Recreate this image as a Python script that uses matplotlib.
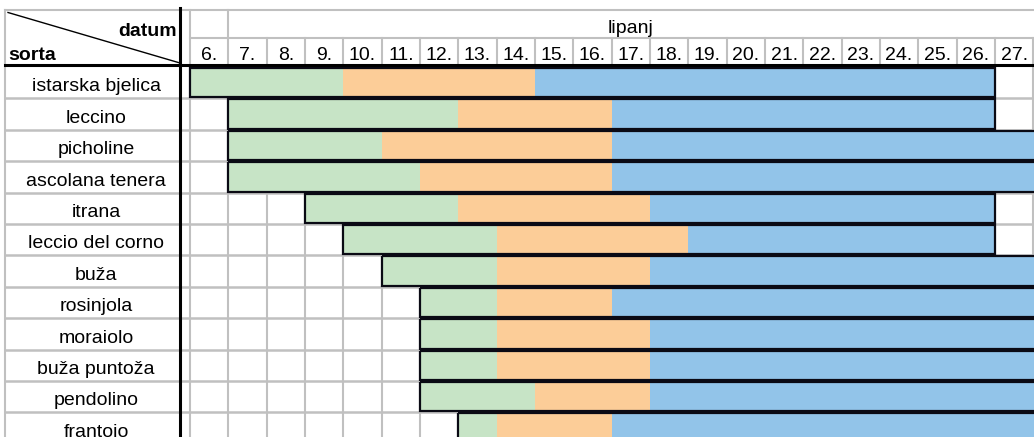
import matplotlib.pyplot as plt

plt.rcParams["font.family"] = ["Liberation Sans", "DejaVu Sans"]

# Flowering phases per olive variety (days of June, "lipanj")
varieties = [
    "istarska bjelica", "leccino", "picholine", "ascolana tenera", "itrana",
    "leccio del corno", "buža", "rosinjola", "moraiolo", "buža puntoža",
    "pendolino", "frantoio",
]
phase_start = [6, 7, 7, 7, 9, 10, 11, 12, 12, 12, 12, 13]
green_end = [10, 13, 11, 12, 13, 14, 14, 14, 14, 14, 15, 14]
orange_end = [15, 17, 17, 17, 18, 19, 18, 17, 18, 18, 18, 17]
blue_end = [27, 27, 29, 29, 27, 27, 29, 29, 29, 29, 29, 29]
days = list(range(6, 28))
day_labels = [f"{d}." for d in days]

GREEN = "#C7E4C6"
ORANGE = "#FCCD98"
BLUE = "#92C4E9"
GRID = "#C0C0C0"
FS = 14

# table geometry (pixels of the 1034x437 sheet)
COL_W = 38.33
ROW_H = 31.4
ROW_TOP = 67.0


def px_x(px):
    return 6 + (px - 190) / COL_W


def px_y(px):
    return (px - ROW_TOP) / ROW_H


fig = plt.figure(figsize=(10.34, 4.37), dpi=100)
ax = fig.add_axes([0, 0, 1, 1])
ax.set_xlim(px_x(0), px_x(1034))
ax.set_ylim(px_y(437), px_y(0))
ax.axis("off")

x_left = px_x(5)
x_right = px_x(1034)
y_top = px_y(10)
y_head = px_y(38)
y_bottom = px_y(437)

# grid lines
for i in range(1, len(varieties) + 1):
    ax.plot([x_left, x_right], [i, i], color=GRID, lw=1.8, zorder=1)
ax.plot([x_left, x_right], [y_top, y_top], color=GRID, lw=1.5, zorder=1)
ax.plot([6, x_right], [y_head, y_head], color=GRID, lw=1.5, zorder=1)
ax.plot([x_left, x_left], [y_top, y_bottom], color=GRID, lw=1.5, zorder=1)
for d in days + [28]:
    y0 = y_top if d in (6, 7) else y_head
    ax.plot([d, d], [y0, y_bottom], color=GRID, lw=1.5, zorder=1)

# bars
rows = list(range(len(varieties)))
y_mid = [r + 0.5 for r in rows]
bar_h = 0.93
green_w = [g - s for s, g in zip(phase_start, green_end)]
orange_w = [o - g for g, o in zip(green_end, orange_end)]
blue_w = [b - o for o, b in zip(orange_end, blue_end)]
total_w = [b - s for s, b in zip(phase_start, blue_end)]
ax.barh(y_mid, green_w, left=phase_start, height=bar_h, color=GREEN, zorder=2)
ax.barh(y_mid, orange_w, left=green_end, height=bar_h, color=ORANGE, zorder=2)
ax.barh(y_mid, blue_w, left=orange_end, height=bar_h, color=BLUE, zorder=2)
ax.barh(y_mid, total_w, left=phase_start, height=bar_h, fill=False,
        edgecolor="#0A0A14", lw=1.6, zorder=3)

# heavy borders
ax.plot([x_left, x_right], [px_y(65), px_y(65)], color="black", lw=2.2, zorder=4)
ax.plot([px_x(180), px_x(180)], [px_y(8), y_bottom], color="black", lw=2.2, zorder=4)
ax.plot([px_x(8), px_x(180)], [px_y(12.5), px_y(63)], color="black", lw=1.0, zorder=4)

# header text
ax.text(px_x(177), px_y(36), "datum", ha="right", va="baseline",
        fontsize=FS, fontweight="bold")
ax.text(px_x(8), px_y(60), "sorta", ha="left", va="baseline",
        fontsize=FS, fontweight="bold")
ax.text((7 + 28) / 2, px_y(33), "lipanj", ha="center", va="baseline", fontsize=FS)
for d, lab in zip(days, day_labels):
    ax.text(d + 0.5, px_y(60), lab, ha="center", va="baseline", fontsize=FS)

for r, name in zip(rows, varieties):
    ax.text(px_x(96), r + 0.78, name, ha="center", va="baseline", fontsize=FS)

fig.savefig("out.png", dpi=100)
